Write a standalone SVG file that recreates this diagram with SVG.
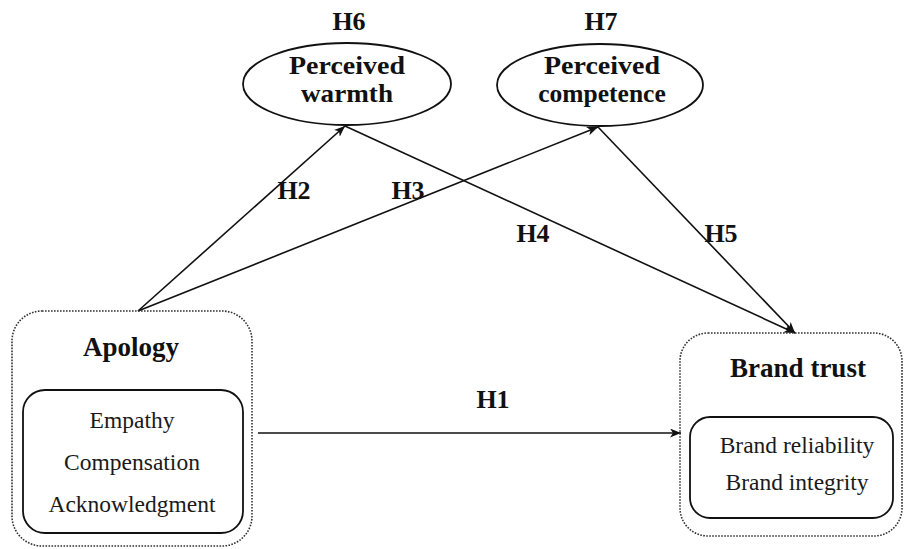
<svg xmlns="http://www.w3.org/2000/svg" width="905" height="549" viewBox="0 0 905 549">
<style>
.b{font-family:"Liberation Serif","Times New Roman",serif;font-weight:bold;fill:#111;text-anchor:middle}
.r{font-family:"Liberation Serif","Times New Roman",serif;fill:#1a1a1a;text-anchor:middle;font-size:23.5px}
.dot{fill:none;stroke:#333;stroke-width:1.6;stroke-dasharray:1.6 1.4}
.solid{fill:none;stroke:#111;stroke-width:1.8}
.ln{stroke:#111;stroke-width:1.6;fill:none;marker-end:url(#ah)}
</style>
<defs>
<marker id="ah" markerUnits="userSpaceOnUse" markerWidth="12" markerHeight="10" refX="11" refY="4.5" orient="auto">
<path d="M0,0 L11,4.5 L0,9 L3,4.5 z" fill="#111"/>
</marker>
</defs>
<rect width="905" height="549" fill="#fff"/>
<g id="connectors">
<line class="ln" x1="138" y1="311" x2="345" y2="126"/>
<line class="ln" x1="138" y1="311" x2="598" y2="127"/>
<line class="ln" x1="345" y1="126" x2="795" y2="333"/>
<line class="ln" x1="598" y1="127" x2="795" y2="333"/>
<line class="ln" x1="258" y1="433" x2="681" y2="433"/>
<text class="b" x="294" y="199" font-size="26">H2</text>
<text class="b" x="408" y="199" font-size="26">H3</text>
<text class="b" x="533" y="242" font-size="26">H4</text>
<text class="b" x="721" y="242" font-size="26">H5</text>
<text class="b" x="493" y="408" font-size="26">H1</text>
</g>
<g id="warmth">
<text class="b" x="349" y="30" font-size="26">H6</text>
<ellipse class="solid" cx="347" cy="84" rx="104" ry="41"/>
<text class="b" x="347" y="74" font-size="25.5" textLength="116" lengthAdjust="spacingAndGlyphs">Perceived</text>
<text class="b" x="347" y="102" font-size="25.5" textLength="92" lengthAdjust="spacingAndGlyphs">warmth</text>
</g>
<g id="competence">
<text class="b" x="601" y="30" font-size="26">H7</text>
<ellipse class="solid" cx="600" cy="85" rx="103" ry="41"/>
<text class="b" x="602" y="74" font-size="25.5" textLength="116" lengthAdjust="spacingAndGlyphs">Perceived</text>
<text class="b" x="602" y="102" font-size="25.5">competence</text>
</g>
<g id="apology">
<rect class="dot" x="12" y="311" width="240" height="235" rx="30"/>
<text class="b" x="131" y="356" font-size="27">Apology</text>
<rect class="solid" x="23" y="390" width="220" height="143" rx="22"/>
<text class="r" x="132" y="428">Empathy</text>
<text class="r" x="132" y="470">Compensation</text>
<text class="r" x="132" y="512">Acknowledgment</text>
</g>
<g id="brandtrust">
<rect class="dot" x="680" y="333" width="222" height="203" rx="28"/>
<text class="b" x="798" y="377" font-size="27">Brand trust</text>
<rect class="solid" x="690" y="417" width="203" height="101" rx="20"/>
<text class="r" x="797" y="453">Brand reliability</text>
<text class="r" x="797" y="490">Brand integrity</text>
</g>
</svg>
